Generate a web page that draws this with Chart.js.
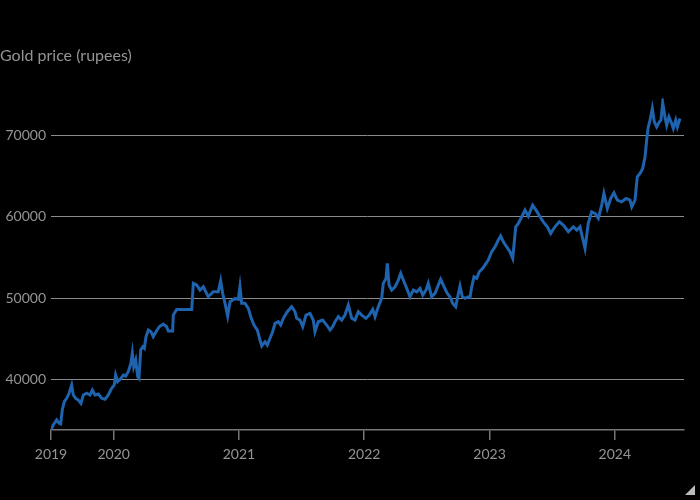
<!DOCTYPE html>
<html>
<head>
<meta charset="utf-8">
<script src="https://cdn.jsdelivr.net/npm/chart.js@4/dist/chart.umd.min.js"></script>
<style>
  html, body { margin: 0; padding: 0; background: #000; }
  #wrap { position: relative; width: 700px; height: 500px; }
  #corner {
    position: absolute; right: 5px; bottom: 5px; width: 0; height: 0;
    border-left: 10px solid transparent; border-bottom: 10px solid #bbb;
  }
</style>
</head>
<body>
<div id="wrap">
  <canvas id="goldChart" width="700" height="500"></canvas>
  <div id="corner"></div>
</div>
<script>
// time as decimal years (mid-2019 to mid-2024)
const years = [
  2019.500, 2019.518, 2019.545, 2019.564, 2019.577, 2019.590, 2019.606, 2019.625, 2019.644, 2019.665,
  2019.678, 2019.697, 2019.718, 2019.739, 2019.758, 2019.785, 2019.811, 2019.830, 2019.851, 2019.878,
  2019.905, 2019.931, 2019.957, 2019.984, 2020.005, 2020.016, 2020.032, 2020.059, 2020.077, 2020.096,
  2020.117, 2020.138, 2020.149, 2020.160, 2020.176, 2020.192, 2020.202, 2020.216, 2020.232, 2020.245,
  2020.258, 2020.277, 2020.298, 2020.316, 2020.338, 2020.364, 2020.396, 2020.423, 2020.436, 2020.471,
  2020.476, 2020.503, 2020.623, 2020.636, 2020.663, 2020.689, 2020.716, 2020.755, 2020.795, 2020.835,
  2020.854, 2020.870, 2020.889, 2020.910, 2020.929, 2020.969, 2020.995, 2021.008, 2021.022, 2021.048,
  2021.075, 2021.094, 2021.120, 2021.147, 2021.168, 2021.182, 2021.208, 2021.226, 2021.248, 2021.269,
  2021.288, 2021.314, 2021.333, 2021.354, 2021.386, 2021.421, 2021.447, 2021.461, 2021.487, 2021.509,
  2021.535, 2021.567, 2021.593, 2021.607, 2021.633, 2021.668, 2021.700, 2021.727, 2021.748, 2021.767,
  2021.793, 2021.820, 2021.846, 2021.873, 2021.900, 2021.926, 2021.953, 2021.980, 2022.014, 2022.040,
  2022.068, 2022.086, 2022.112, 2022.139, 2022.152, 2022.174, 2022.184, 2022.198, 2022.219, 2022.246,
  2022.272, 2022.291, 2022.312, 2022.339, 2022.365, 2022.392, 2022.419, 2022.445, 2022.467, 2022.493,
  2022.511, 2022.538, 2022.565, 2022.591, 2022.610, 2022.637, 2022.663, 2022.684, 2022.706, 2022.730,
  2022.746, 2022.764, 2022.783, 2022.804, 2022.831, 2022.844, 2022.858, 2022.876, 2022.898, 2022.918,
  2022.945, 2022.972, 2022.990, 2023.017, 2023.044, 2023.070, 2023.089, 2023.110, 2023.137, 2023.163,
  2023.185, 2023.209, 2023.230, 2023.257, 2023.283, 2023.309, 2023.344, 2023.371, 2023.403, 2023.429,
  2023.461, 2023.488, 2023.522, 2023.557, 2023.589, 2023.629, 2023.669, 2023.696, 2023.722, 2023.743,
  2023.762, 2023.788, 2023.815, 2023.842, 2023.868, 2023.895, 2023.913, 2023.940, 2023.967, 2023.993,
  2024.020, 2024.055, 2024.089, 2024.121, 2024.135, 2024.161, 2024.179, 2024.201, 2024.222, 2024.241,
  2024.254, 2024.267, 2024.281, 2024.299, 2024.315, 2024.334, 2024.355, 2024.368, 2024.382, 2024.400,
  2024.414, 2024.432, 2024.454, 2024.467, 2024.486, 2024.499, 2024.520
];

// gold price in rupees
const prices = [
  33890, 34420, 35030, 34620, 34540, 36260, 37280, 37690, 38310, 39330,
  38100, 37690, 37480, 37080, 38100, 38310, 38100, 38710, 38100, 38220,
  37690, 37570, 38100, 38920, 39330, 40550, 39730, 40150, 40550, 40430,
  40960, 41990, 43210, 41570, 42390, 40340, 40150, 43620, 44020, 43830,
  45250, 46070, 45870, 45250, 45870, 46480, 46810, 46480, 45950, 45950,
  47910, 48610, 48610, 51800, 51600, 50980, 51390, 50160, 50770, 50770,
  52120, 50580, 49350, 47790, 49550, 49960, 49840, 51390, 49350, 49350,
  48740, 47710, 46690, 46070, 44850, 44110, 44640, 44230, 45060, 45870,
  46900, 47090, 46690, 47510, 48320, 48930, 48320, 47510, 47300, 46480,
  47910, 48120, 47300, 45870, 47090, 47300, 46690, 46070, 46480, 47090,
  47710, 47300, 47910, 49140, 47510, 47300, 48320, 47910, 47510, 47910,
  48610, 47710, 48930, 49960, 51800, 52420, 54260, 51600, 50980, 51390,
  52210, 53030, 52210, 51190, 50160, 50980, 50770, 51190, 50370, 50980,
  51800, 50160, 50580, 51600, 52300, 51390, 50580, 50160, 49350, 48930,
  50160, 51480, 50160, 49960, 50160, 50090, 51390, 52610, 52420, 53230,
  53640, 54260, 54660, 55680, 56290, 57120, 57610, 56910, 56290, 55680,
  54870, 58750, 59170, 59980, 60800, 60060, 61410, 60800, 59980, 59360,
  58750, 57940, 58750, 59360, 58960, 58140, 58750, 58340, 58750, 57320,
  56100, 59170, 60590, 60390, 59780, 61410, 62850, 61000, 62230, 62930,
  62030, 61820, 62230, 62030, 61200, 62030, 64880, 65300, 65910, 67340,
  69390, 71020, 71840, 73280, 71630, 71020, 71630, 71840, 74000, 72240,
  71220, 72240, 71430, 70820, 71840, 71020, 72040
];

const xTickValues = [2019.5, 2020, 2021, 2022, 2023, 2024];
const xTickLabels = ["2019", "2020", "2021", "2022", "2023", "2024"];
const yTickValues = [40000, 50000, 60000, 70000];

const points = years.map((t, i) => ({ x: t, y: prices[i] }));

const textGrey = "#949494";
const fontFamily = "Lato, 'Open Sans', sans-serif";

new Chart(document.getElementById("goldChart"), {
  type: "line",
  data: {
    datasets: [
      {
        label: "Gold price",
        data: points,
        borderColor: "#1f62ad",
        borderWidth: 3,
        pointRadius: 0,
        tension: 0,
        fill: false,
      },
    ],
  },
  options: {
    responsive: false,
    animation: false,
    layout: { padding: { left: 0, right: 16, top: 0, bottom: 0 } },
    plugins: {
      legend: { display: false },
      tooltip: { enabled: false },
      title: {
        display: true,
        text: "Gold price (rupees)",
        align: "start",
        color: textGrey,
        font: { family: fontFamily, size: 16, weight: "normal" },
        padding: { top: 46, bottom: 33 },
      },
    },
    scales: {
      x: {
        type: "linear",
        min: 2019.5,
        max: 2024.552,
        afterBuildTicks: (axis) => {
          axis.ticks = xTickValues.map((v) => ({ value: v }));
        },
        afterFit: (axis) => {
          axis.height = 70;
        },
        ticks: {
          color: textGrey,
          font: { family: fontFamily, size: 14 },
          padding: 6,
          maxRotation: 0,
          autoSkip: false,
          callback: (value) => {
            const i = xTickValues.indexOf(value);
            return i >= 0 ? xTickLabels[i] : "";
          },
        },
        grid: {
          drawOnChartArea: false,
          drawTicks: true,
          tickLength: 10,
          color: "#777777",
          lineWidth: 1.5,
        },
        border: { display: true, color: "#777777", width: 1.5 },
      },
      y: {
        min: 33800,
        max: 74540,
        afterBuildTicks: (axis) => {
          axis.ticks = yTickValues.map((v) => ({ value: v }));
        },
        afterFit: (axis) => {
          axis.width = 51;
        },
        ticks: {
          color: textGrey,
          font: { family: fontFamily, size: 14 },
          padding: 5,
          callback: (value) => String(value),
        },
        grid: {
          drawTicks: false,
          color: "#8a8a8a",
          lineWidth: 1,
        },
        border: { display: false },
      },
    },
  },
});
</script>
</body>
</html>
